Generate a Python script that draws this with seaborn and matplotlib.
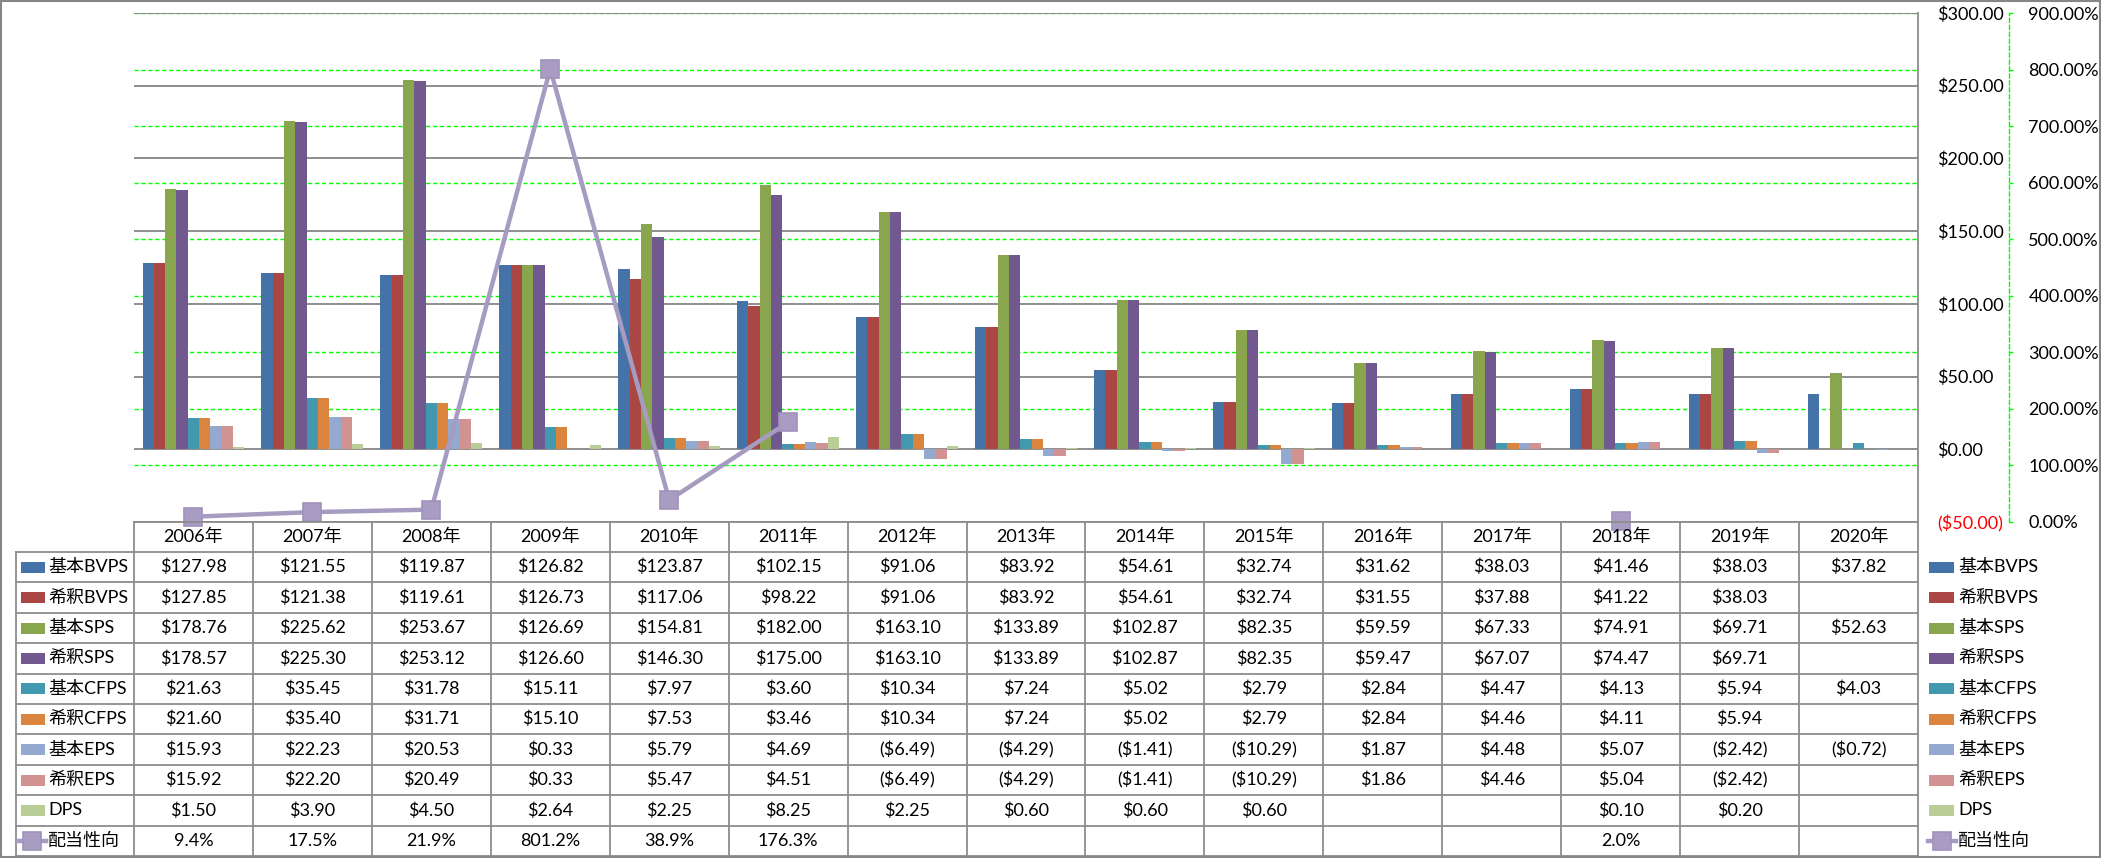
import numpy as np
import pandas as pd
import matplotlib
matplotlib.use("Agg")
import matplotlib.pyplot as plt
from matplotlib.lines import Line2D
from matplotlib.patches import Rectangle
import seaborn as sns

# ---------------- data ----------------
years = ['2006年', '2007年', '2008年', '2009年', '2010年', '2011年', '2012年', '2013年',
         '2014年', '2015年', '2016年', '2017年', '2018年', '2019年', '2020年']
nan = np.nan
basic_bvps = [127.98, 121.55, 119.87, 126.82, 123.87, 102.15, 91.06, 83.92, 54.61, 32.74, 31.62, 38.03, 41.46, 38.03, 37.82]
dil_bvps = [127.85, 121.38, 119.61, 126.73, 117.06, 98.22, 91.06, 83.92, 54.61, 32.74, 31.55, 37.88, 41.22, 38.03, nan]
basic_sps = [178.76, 225.62, 253.67, 126.69, 154.81, 182.00, 163.10, 133.89, 102.87, 82.35, 59.59, 67.33, 74.91, 69.71, 52.63]
dil_sps = [178.57, 225.30, 253.12, 126.60, 146.30, 175.00, 163.10, 133.89, 102.87, 82.35, 59.47, 67.07, 74.47, 69.71, nan]
basic_cfps = [21.63, 35.45, 31.78, 15.11, 7.97, 3.60, 10.34, 7.24, 5.02, 2.79, 2.84, 4.47, 4.13, 5.94, 4.03]
dil_cfps = [21.60, 35.40, 31.71, 15.10, 7.53, 3.46, 10.34, 7.24, 5.02, 2.79, 2.84, 4.46, 4.11, 5.94, nan]
basic_eps = [15.93, 22.23, 20.53, 0.33, 5.79, 4.69, -6.49, -4.29, -1.41, -10.29, 1.87, 4.48, 5.07, -2.42, -0.72]
dil_eps = [15.92, 22.20, 20.49, 0.33, 5.47, 4.51, -6.49, -4.29, -1.41, -10.29, 1.86, 4.46, 5.04, -2.42, nan]
dps = [1.50, 3.90, 4.50, 2.64, 2.25, 8.25, 2.25, 0.60, 0.60, 0.60, nan, nan, 0.10, 0.20, nan]
payout = [9.4, 17.5, 21.9, 801.2, 38.9, 176.3, nan, nan, nan, nan, nan, nan, 2.0, nan, nan]

series_names = ['基本BVPS', '希釈BVPS', '基本SPS', '希釈SPS', '基本CFPS', '希釈CFPS', '基本EPS', '希釈EPS', 'DPS']
series_values = [basic_bvps, dil_bvps, basic_sps, dil_sps, basic_cfps, dil_cfps, basic_eps, dil_eps, dps]
line_name = '配当性向'
bar_colors = ['#4572A7', '#AA4643', '#89A54E', '#71588F', '#4198AF', '#DB843D', '#93A9CF', '#D19392', '#B9CD96']
line_color = '#A69BC0'

primary_ticks = [-50, 0, 50, 100, 150, 200, 250, 300]
secondary_ticks = [0, 100, 200, 300, 400, 500, 600, 700, 800, 900]

# ---------------- setup ----------------
plt.rcParams['font.family'] = ['Lato', 'Noto Sans CJK JP', 'DejaVu Sans']
FS = 13
W, H = 2101, 858
fig = plt.figure(figsize=(W / 100, H / 100), dpi=100)


def fx(x):
    return x / W


def fy(y):
    return 1 - y / H


L, R, T, B = 134, 1918, 13, 522
rect = [fx(L), fy(B), (R - L) / W, (B - T) / H]
GRAY = '#868686'
GREEN = '#00FF00'

# secondary grid axis (bottom layer)
axg = fig.add_axes(rect, zorder=0)
axg.set_xlim(-0.5, len(years) - 0.5)
axg.set_ylim(0, 900)
axg.set_yticks(secondary_ticks)
axg.set_xticks([])
axg.grid(axis='y', color=GREEN, lw=1.0, linestyle=(0, (3, 2)))
axg.tick_params(left=False, labelleft=False)
for s in axg.spines.values():
    s.set_visible(False)

# primary bar axis
ax = fig.add_axes(rect, zorder=1)
ax.patch.set_visible(False)
rows = []
for name, vals in zip(series_names, series_values):
    for yr, v in zip(years, vals):
        rows.append({'year': yr, 'series': name, 'value': v})
df = pd.DataFrame(rows)
sns.barplot(data=df, x='year', y='value', hue='series', order=years, hue_order=series_names,
            palette=bar_colors, width=0.857, saturation=1, errorbar=None, legend=False,
            linewidth=0, ax=ax)
ax.set_xlim(-0.5, len(years) - 0.5)
ax.set_ylim(-50, 300)
ax.set_xticks([])
ax.set_xlabel('')
ax.set_ylabel('')
ax.set_axisbelow(True)
ax.grid(axis='y', color=GRAY, lw=1.3)
ax.grid(axis='x', visible=False)
ax.yaxis.tick_right()
ax.set_yticks(primary_ticks)
ax.set_yticklabels([f"(${-t:.2f})" if t < 0 else f"${t:.2f}" for t in primary_ticks])
ax.tick_params(axis='y', length=0, pad=14, labelsize=FS, labelcolor='black')
for tk, t in zip(ax.yaxis.get_major_ticks(), primary_ticks):
    if t < 0:
        tk.label1.set_color('red')
        tk.label2.set_color('red')
for s in ax.spines.values():
    s.set_visible(False)

# secondary line axis (top layer)
ax2 = fig.add_axes(rect, zorder=2)
ax2.patch.set_visible(False)
xpos = np.arange(len(years))
ax2.plot(xpos, payout, color=line_color, lw=3.2, marker='s', markersize=12.5,
         markerfacecolor='#A99CC2', markeredgecolor='#A092BA', markeredgewidth=1.2,
         clip_on=False, zorder=5)
ax2.set_xlim(-0.5, len(years) - 0.5)
ax2.set_ylim(0, 900)
ax2.set_xticks([])
ax2.yaxis.tick_right()
ax2.set_yticks(secondary_ticks)
ax2.set_yticklabels([f"{t:.2f}%" for t in secondary_ticks])
ax2.tick_params(axis='y', direction='out', length=3, width=1, color=GREEN, pad=11, labelsize=FS)
for k in ['top', 'left', 'bottom']:
    ax2.spines[k].set_visible(False)
ax2.spines['right'].set_position(('outward', 65.5))
ax2.spines['right'].set_color(GREEN)
ax2.spines['right'].set_linestyle((0, (3, 2)))
ax2.spines['right'].set_linewidth(1.0)


# ---------------- data table ----------------
def fline(x0, y0, x1, y1, color='#8C8C8C', lw=1.3):
    fig.add_artist(Line2D([fx(x0), fx(x1)], [fy(y0), fy(y1)], transform=fig.transFigure,
                          color=color, lw=lw, zorder=10))


colw = (R - L) / len(years)
hdr_top, hdr_bot = B, 552
rowh = 30.4
nrows = len(series_names) + 1
tbl_bot = hdr_bot + rowh * nrows
TL = 16

# right plot border extends through table
fline(R, T, R, tbl_bot)
# header top (plot bottom)
fline(L, hdr_top, R, hdr_top)
# horizontal row lines
for i in range(nrows + 1):
    yy = hdr_bot + rowh * i
    fline(TL, yy, R, yy)
# vertical lines
fline(TL, hdr_bot, TL, tbl_bot)
for j in range(len(years)):
    xx = L + colw * j
    fline(xx, hdr_top, xx, tbl_bot)

# header
for j, yr in enumerate(years):
    fig.text(fx(L + colw * (j + 0.5)), fy((hdr_top + hdr_bot) / 2), yr, ha='center', va='center',
             fontsize=FS, zorder=11)


def fmt_money(v):
    if np.isnan(v):
        return ''
    return f"(${-v:.2f})" if v < 0 else f"${v:.2f}"


all_rows = list(zip(series_names, series_values, bar_colors))
for i, (name, vals, col) in enumerate(all_rows):
    yc = hdr_bot + rowh * (i + 0.5)
    for j, v in enumerate(vals):
        fig.text(fx(L + colw * (j + 0.5)), fy(yc), fmt_money(v), ha='center', va='center',
                 fontsize=FS, zorder=11)
    # left legend key
    fig.add_artist(Rectangle((fx(21), fy(yc + 5.5)), 24 / W, 11 / H, transform=fig.transFigure,
                             facecolor=col, edgecolor='none', zorder=11))
    fig.text(fx(48), fy(yc), name, ha='left', va='center', fontsize=FS, zorder=11)
    # right legend key
    fig.add_artist(Rectangle((fx(1929), fy(yc + 5.5)), 25 / W, 11 / H, transform=fig.transFigure,
                             facecolor=col, edgecolor='none', zorder=11))
    fig.text(fx(1958), fy(yc), name, ha='left', va='center', fontsize=FS, zorder=11)

# payout row
yc = hdr_bot + rowh * (nrows - 0.5)
for j, v in enumerate(payout):
    s = '' if np.isnan(v) else f"{v:.1f}%"
    fig.text(fx(L + colw * (j + 0.5)), fy(yc), s, ha='center', va='center', fontsize=FS, zorder=11)
for x0 in (18, 1928):
    fig.add_artist(Line2D([fx(x0), fx(x0 + 28)], [fy(yc), fy(yc)], transform=fig.transFigure,
                          color=line_color, lw=3.2, zorder=11))
    fig.add_artist(Line2D([fx(x0 + 14)], [fy(yc)], transform=fig.transFigure, marker='s',
                          markersize=12.5, markerfacecolor='#A99CC2', markeredgecolor='#A092BA',
                          markeredgewidth=1.2, zorder=12))
fig.text(fx(48), fy(yc), line_name, ha='left', va='center', fontsize=FS, zorder=11)
fig.text(fx(1958), fy(yc), line_name, ha='left', va='center', fontsize=FS, zorder=11)

# outer border
fig.add_artist(Rectangle((0.0005, 0.001), 0.999, 0.998, transform=fig.transFigure, fill=False,
                         edgecolor=GRAY, lw=1.5, zorder=20))

fig.savefig('out.png', dpi=100)
